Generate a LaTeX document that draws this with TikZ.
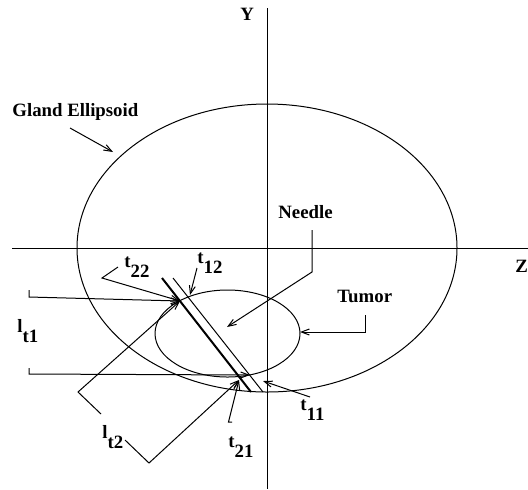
\documentclass[tikz,border=0pt]{standalone}
\usepackage{fontspec}
\setmainfont{Liberation Serif}
\usetikzlibrary{arrows.meta}

\newcommand{\lowsub}[2]{#1\raisebox{-0.55em}{#2}}

\begin{document}
\begin{tikzpicture}[
  x=0.5pt, y=-0.5pt,
  font=\fontsize{9.4}{11}\selectfont\bfseries,
  lbl/.style={anchor=base west, inner sep=0pt},
  fine/.style={line width=0.5pt},
  needle/.style={line width=1pt},
  >={Straight Barb[length=4pt, width=3pt]}
]
\useasboundingbox (0,0) rectangle (528,489);

% --- axes ---
\coordinate (ytop) at (267,8);
\coordinate (ybot) at (267,489);
\coordinate (zleft) at (12,248);
\coordinate (zright) at (528,248);
\draw[fine] (zleft) -- (zright);
\draw[fine] (ytop) -- (ybot);
\node[lbl] (ylab) at (240,20) {Y};
\node[lbl] (zlab) at (515,272) {Z};

% --- gland and tumor ---
\coordinate (gland) at (267,248);
\draw[fine] (gland) ellipse [x radius=190, y radius=144];
\coordinate (tumor) at (227.5,333.5);
\draw[fine] (tumor) ellipse [x radius=72.5, y radius=43.5];

% --- needle walls ---
\coordinate (n1a) at (162,278);
\coordinate (n1b) at (251,392);
\coordinate (n2a) at (173,278);
\coordinate (n2b) at (263,392);
\draw[needle] (n1a) -- (n1b);
\draw[fine] (n2a) -- (n2b);

% points where the walls cut the tumor
\coordinate (p22) at (180,301);
\coordinate (p12) at (190,295);
\coordinate (p21) at (239,380);
\coordinate (p11) at (263,381);
\coordinate (pbot) at (250,375);

% --- names ---
\node[lbl] (glab) at (12,116) {Gland Ellipsoid};
\coordinate (gtail) at (70,128);
\coordinate (gtip) at (113,152);
\draw[fine, ->] (gtail) -- (gtip);

\node[lbl] (nlab) at (278,218) {Needle};
\coordinate (ntail) at (312,230);
\coordinate (nbend) at (312,272);
\coordinate (ntip) at (227,327);
\draw[fine, ->] (ntail) -- (nbend) -- (ntip);

\node[lbl] (tlab) at (337,302) {Tumor};
\coordinate (ttail) at (365,315);
\coordinate (tbend) at (365,332);
\coordinate (ttip) at (300,332);
\draw[fine, ->] (ttail) -- (tbend) -- (ttip);

% --- l_t1: two level lines ---
\node[lbl] (lt1) at (17,332) {\lowsub{l}{t1}};
\coordinate (l1a) at (29,290);
\coordinate (l1b) at (29,297);
\coordinate (l1c) at (29,368);
\coordinate (l1d) at (29,374);
\draw[fine, ->] (l1a) -- (l1b) -- (p22);
\draw[fine, ->] (l1c) -- (l1d) -- (pbot);

% --- t labels ---
\node[lbl] (t22) at (124,267) {\lowsub{t}{22}};
\coordinate (t22a) at (118,267);
\coordinate (t22b) at (102,278);
\draw[fine, ->] (t22a) -- (t22b) -- (p22);

\node[lbl] (t12) at (197,263) {\lowsub{t}{12}};
\coordinate (t12a) at (197,268);
\draw[fine, ->] (t12a) -- (p12);

\node[lbl] (t21) at (228,447) {\lowsub{t}{21}};
\coordinate (t21a) at (232,422);
\coordinate (t21b) at (228.5,422);
\draw[fine, ->] (t21a) -- (t21b) -- (p21);

\node[lbl] (t11) at (300,410) {\lowsub{t}{11}};
\coordinate (t11a) at (310,397);
\draw[fine, ->] (t11a) -- (p11);

% --- l_t2: bracket to both ends of the wall ---
\node[lbl] (lt2) at (102,438) {\lowsub{l}{t2}};
\coordinate (l2a) at (101,414);
\coordinate (l2b) at (78,392);
\coordinate (l2c) at (125,440);
\coordinate (l2d) at (149,463);
\draw[fine, ->] (l2a) -- (l2b) -- (p22);
\draw[fine, ->] (l2c) -- (l2d) -- (p21);
\end{tikzpicture}
\end{document}
